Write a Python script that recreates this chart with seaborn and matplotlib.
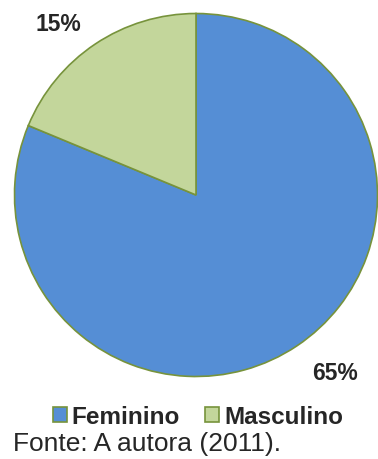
import matplotlib.pyplot as plt
import seaborn as sns
from matplotlib.patches import Patch

sns.set_style('white')
plt.rcParams['font.family'] = ['Liberation Sans', 'DejaVu Sans']

categorias = ['Feminino', 'Masculino']
valores = [65, 15]
rotulos = ['65%', '15%']
cores = ['#558ED5', '#C3D69B']
borda = '#77933C'

fig = plt.figure(figsize=(3.78, 4.59), dpi=100)
ax = fig.add_axes([14.5/378, 82.5/459, 363/378, 363/459])
ax.pie(valores, colors=cores, startangle=90, counterclock=False,
       radius=1, wedgeprops={'edgecolor': borda, 'linewidth': 1.2})
ax.set_aspect('equal')
ax.set_xlim(-1, 1)
ax.set_ylim(-1, 1)

# posicoes dos rotulos (fora da pizza)
pos = [(0.766, -0.981), (-0.760, 0.937)]
for (x, y), r in zip(pos, rotulos):
    ax.text(x, y, r, ha='center', va='center', fontsize=16.5, fontweight='bold', clip_on=False)

handles = [Patch(facecolor=c, edgecolor=borda, linewidth=1.2) for c in cores]
leg = fig.legend(handles, categorias, loc='center', bbox_to_anchor=(0.524, 0.0915), ncol=2,
                 frameon=False, prop={'weight': 'bold', 'size': 17.5}, borderpad=0,
                 handlelength=0.58, handleheight=0.58, handletextpad=0.2, columnspacing=1.03)

fig.text(13/378, 0.0327, 'Fonte: A autora (2011).', ha='left', va='center', fontsize=19)

fig.savefig('out.png', dpi=100)
